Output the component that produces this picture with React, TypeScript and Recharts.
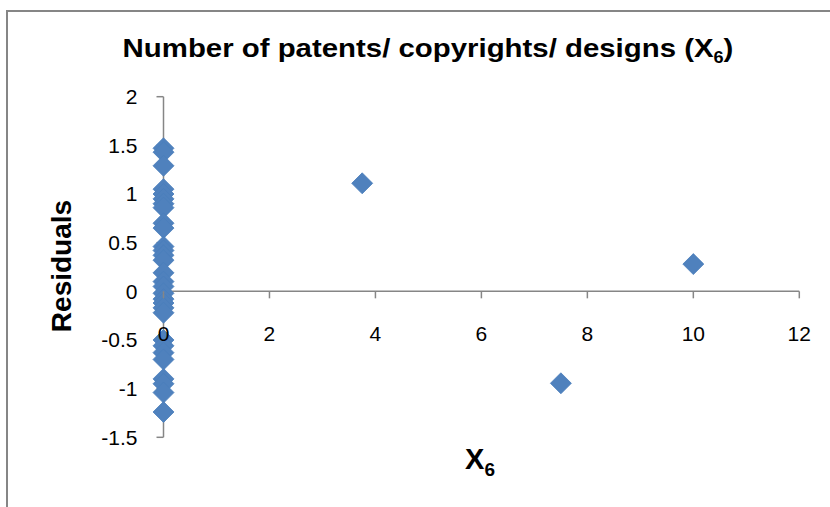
import React from "react";
import {
  ScatterChart,
  Scatter,
  XAxis,
  YAxis,
  ReferenceLine,
} from "recharts";

// X6 values (most observations sit at zero) and matching residuals
const x6 = [
  0, 0, 0, 0, 0, 0, 0, 0, 0, 0,
  0, 0, 0, 0, 0, 0, 0, 0, 0, 0,
  0, 0, 0, 0, 0, 0, 0, 0, 0, 0,
  3.75, 7.5, 10,
];
const residuals = [
  1.47, 1.43, 1.29, 1.05, 1.0, 0.95, 0.9, 0.86, 0.7, 0.65,
  0.46, 0.42, 0.37, 0.32, 0.19, 0.1, 0.05, -0.02, -0.08, -0.12,
  -0.17, -0.22, -0.5, -0.56, -0.63, -0.7, -0.9, -0.95, -1.04, -1.24,
  1.11, -0.945, 0.28,
];
const xTicks = [0, 2, 4, 6, 8, 10, 12];
const yTicks = [-1.5, -1, -0.5, 0, 0.5, 1, 1.5, 2];

const points = x6.map((x, i) => ({ x, y: residuals[i] }));

const W = 830;
const H = 507;
const PLOT_LEFT = 163.5;
const PLOT_RIGHT = 799.3;
const PLOT_TOP = 96.7;
const PLOT_BOTTOM = 437.3;
const Y_AXIS_W = 60;
const X_AXIS_H = 30;
const Y_MIN = -1.5;
const Y_MAX = 2;

const AXIS = "#868686";
const MARKER = "#4F81BD";
const tickFont = "'Liberation Sans', Arial, sans-serif";
const TICK_SIZE = 21;

const Diamond = (props: any) => {
  const { cx, cy } = props;
  const r = 10.5;
  return (
    <polygon
      points={`${cx},${cy - r} ${cx + r},${cy} ${cx},${cy + r} ${cx - r},${cy}`}
      fill={MARKER}
      stroke="#4A7EBB"
      strokeWidth={0.8}
    />
  );
};

// x axis crosses at y = 0, so ticks get lifted from the bottom edge
const XTick = (props: any) => {
  const { x, y, payload } = props;
  const plotH = PLOT_BOTTOM - PLOT_TOP;
  const zeroY = y - (plotH * (0 - Y_MIN)) / (Y_MAX - Y_MIN);
  return (
    <g>
      <line x1={x} x2={x} y1={zeroY} y2={zeroY + 7} stroke={AXIS} strokeWidth={1.5} />
      <text
        x={x}
        y={zeroY + 42}
        textAnchor="middle"
        dominantBaseline="central"
        fontFamily={tickFont}
        fontSize={TICK_SIZE}
        fill="#000"
      >
        {payload.value}
      </text>
    </g>
  );
};

export default function App() {
  return (
    <div
      style={{
        position: "absolute",
        left: 0,
        top: 0,
        width: W,
        height: H,
        overflow: "hidden",
        background: "#fff",
      }}
    >
      <div
        style={{
          position: "absolute",
          left: 6,
          top: 10,
          width: 900,
          height: 600,
          border: `2px solid ${AXIS}`,
          boxSizing: "border-box",
        }}
      />
      <ScatterChart
        width={W}
        height={H}
        margin={{
          top: PLOT_TOP,
          right: W - PLOT_RIGHT,
          bottom: H - PLOT_BOTTOM - X_AXIS_H,
          left: PLOT_LEFT - Y_AXIS_W,
        }}
        style={{ position: "absolute", left: 0, top: 0 }}
      >
        <XAxis
          type="number"
          dataKey="x"
          domain={[0, 12]}
          ticks={xTicks}
          interval={0}
          height={X_AXIS_H}
          axisLine={false}
          tickLine={false}
          tickSize={0}
          tickMargin={0}
          tick={<XTick />}
        />
        <YAxis
          type="number"
          dataKey="y"
          domain={[Y_MIN, Y_MAX]}
          ticks={yTicks}
          interval={0}
          width={Y_AXIS_W}
          axisLine={{ stroke: AXIS, strokeWidth: 1.5 }}
          tickLine={{ stroke: AXIS, strokeWidth: 1.5 }}
          tickSize={7}
          tickMargin={19}
          tick={{ fill: "#000", fontSize: TICK_SIZE, fontFamily: tickFont }}
        />
        <ReferenceLine y={0} stroke={AXIS} strokeWidth={1.5} />
        <Scatter data={points} shape={<Diamond />} isAnimationActive={false} />
      </ScatterChart>
      <div
        style={{
          position: "absolute",
          left: 428,
          top: 50,
          transform: "translate(-50%, -50%) scaleX(1.13)",
          whiteSpace: "nowrap",
          fontFamily: tickFont,
          fontWeight: "bold",
          fontSize: 26,
        }}
      >
        Number of patents/ copyrights/ designs (X<sub style={{ fontSize: 16 }}>6</sub>)
      </div>
      <div
        style={{
          position: "absolute",
          left: 62,
          top: 266,
          transform: "translate(-50%, -50%) rotate(-90deg)",
          whiteSpace: "nowrap",
          fontFamily: tickFont,
          fontWeight: "bold",
          fontSize: 28,
        }}
      >
        Residuals
      </div>
      <div
        style={{
          position: "absolute",
          left: 480,
          top: 462,
          transform: "translate(-50%, -50%)",
          whiteSpace: "nowrap",
          fontFamily: tickFont,
          fontWeight: "bold",
          fontSize: 29,
        }}
      >
        X<sub style={{ fontSize: 19 }}>6</sub>
      </div>
    </div>
  );
}
